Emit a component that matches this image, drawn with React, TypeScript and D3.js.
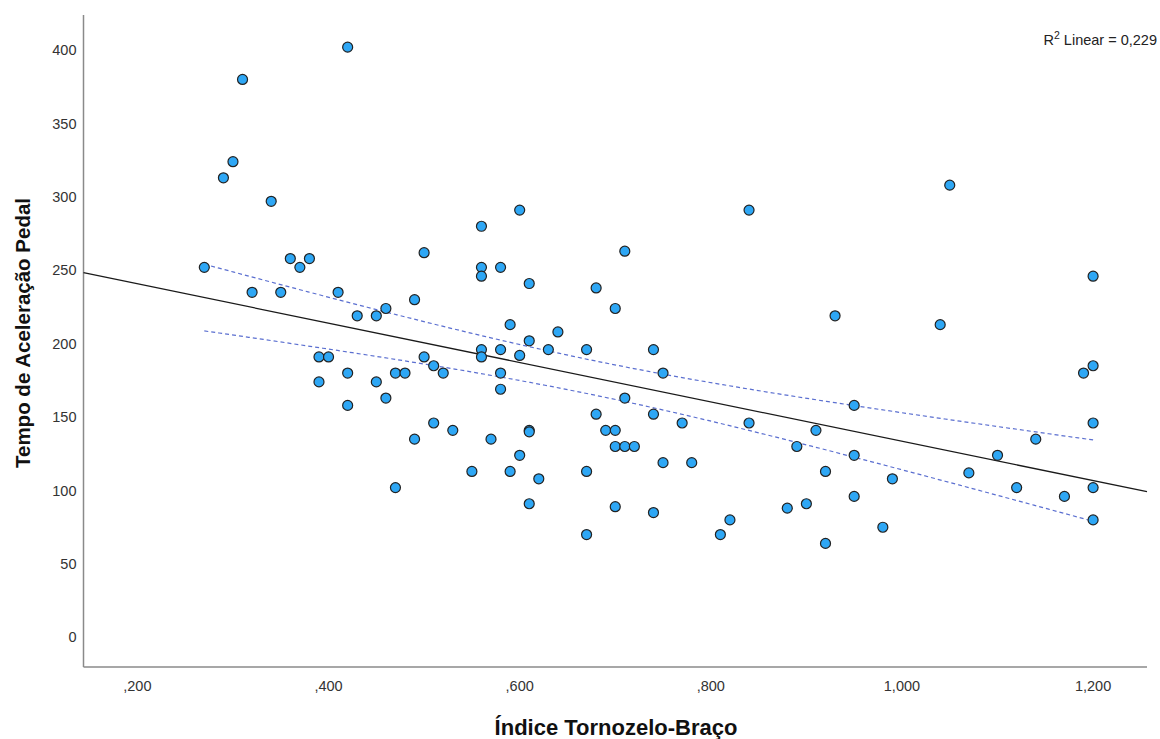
import React from "react";
import * as d3 from "d3";

const abi: number[] = [
  0.27, 0.29, 0.30, 0.31, 0.32, 0.34, 0.35, 0.36, 0.37, 0.38, 0.39, 0.39, 0.40, 0.41, 0.42, 0.42, 0.42, 0.43, 0.45, 0.45,
  0.46, 0.46, 0.47, 0.47, 0.48, 0.49, 0.49, 0.50, 0.50, 0.51, 0.51, 0.52, 0.53, 0.55, 0.56, 0.56, 0.56, 0.56, 0.56, 0.57,
  0.58, 0.58, 0.58, 0.58, 0.59, 0.59, 0.60, 0.60, 0.60, 0.61, 0.61, 0.61, 0.61, 0.61, 0.62, 0.63, 0.64, 0.67, 0.67, 0.67,
  0.68, 0.68, 0.69, 0.70, 0.70, 0.70, 0.70, 0.71, 0.71, 0.71, 0.72, 0.74, 0.74, 0.74, 0.75, 0.75, 0.77, 0.78, 0.81, 0.82,
  0.84, 0.84, 0.88, 0.89, 0.90, 0.91, 0.92, 0.92, 0.93, 0.95, 0.95, 0.95, 0.98, 0.99, 1.04, 1.05, 1.07, 1.10, 1.12, 1.14,
  1.17, 1.19, 1.20, 1.20, 1.20, 1.20, 1.20,
];
const tempo: number[] = [
  252, 313, 324, 380, 235, 297, 235, 258, 252, 258, 191, 174, 191, 235, 402, 180, 158, 219, 219, 174,
  224, 163, 180, 102, 180, 230, 135, 262, 191, 185, 146, 180, 141, 113, 280, 252, 246, 196, 191, 135,
  252, 196, 180, 169, 213, 113, 291, 192, 124, 241, 202, 141, 140, 91, 108, 196, 208, 196, 113, 70,
  238, 152, 141, 224, 141, 130, 89, 263, 163, 130, 130, 196, 152, 85, 180, 119, 146, 119, 70, 80,
  291, 146, 88, 130, 91, 141, 113, 64, 219, 158, 124, 96, 75, 108, 213, 308, 112, 124, 102, 135,
  96, 180, 246, 185, 146, 102, 80,
];

const xTicks: number[] = [0.2, 0.4, 0.6, 0.8, 1.0, 1.2];
const xTickLabels: string[] = [",200", ",400", ",600", ",800", "1,000", "1,200"];
const yTicks: number[] = [0, 50, 100, 150, 200, 250, 300, 350, 400];

const xTitle = "Índice Tornozelo-Braço";
const yTitle = "Tempo de Aceleração Pedal";
const r2Label = "0,229";
const tCrit = 1.983;

const W = 1160;
const H = 739;
const left = 83.5;
const right = 1147;
const top = 15;
const bottom = 667;

export default function App() {
  const x = d3.scaleLinear().domain([0.1436, 1.2564]).range([left, right]);
  const y = d3.scaleLinear().domain([-20.2, 423.9]).range([bottom, top]);

  const n = abi.length;
  const mx = d3.mean(abi) as number;
  const my = d3.mean(tempo) as number;
  let sxx = 0, sxy = 0;
  for (let i = 0; i < n; i++) {
    sxx += (abi[i] - mx) ** 2;
    sxy += (abi[i] - mx) * (tempo[i] - my);
  }
  const slope = sxy / sxx;
  const intercept = my - slope * mx;
  let sse = 0;
  for (let i = 0; i < n; i++) sse += (tempo[i] - (intercept + slope * abi[i])) ** 2;
  const s = Math.sqrt(sse / (n - 2));
  const fit = (v: number) => intercept + slope * v;
  const half = (v: number) => tCrit * s * Math.sqrt(1 / n + (v - mx) ** 2 / sxx);

  const [xmin, xmax] = d3.extent(abi) as [number, number];
  const xs = d3.range(0, 61).map((i) => xmin + ((xmax - xmin) * i) / 60);
  const line = d3
    .line<[number, number]>()
    .x((d) => x(d[0]))
    .y((d) => y(d[1]));
  const upper = line(xs.map((v) => [v, fit(v) + half(v)] as [number, number])) || "";
  const lower = line(xs.map((v) => [v, fit(v) - half(v)] as [number, number])) || "";
  const d0 = x.domain();
  const fitPath = line([
    [d0[0], fit(d0[0])],
    [d0[1], fit(d0[1])],
  ]) || "";

  const font = "'Liberation Sans', Arial, sans-serif";

  return (
    <svg width={W} height={H} style={{ position: "absolute", left: 0, top: 0, background: "#fff" }} fontFamily={font}>
      <rect x={0} y={0} width={W} height={H} fill="#fff" />
      {/* axes */}
      <line x1={left} x2={left} y1={top} y2={bottom} stroke="#8a8a8a" strokeWidth={1.5} />
      <line x1={left} x2={right} y1={bottom} y2={bottom} stroke="#8a8a8a" strokeWidth={1.5} />
      {yTicks.map((t) => (
        <text key={"y" + t} x={left - 7} y={y(t)} dy="0.35em" textAnchor="end" fontSize={14.5} fill="#333">
          {t}
        </text>
      ))}
      {xTicks.map((t, i) => (
        <text key={"x" + t} x={x(t)} y={bottom + 24} textAnchor="middle" fontSize={14.5} fill="#333">
          {xTickLabels[i]}
        </text>
      ))}
      <text
        transform={`translate(${30},${333}) rotate(-90)`}
        textAnchor="middle"
        fontSize={20.5}
        fontWeight="bold"
        fill="#111"
      >
        {yTitle}
      </text>
      <text x={616} y={735} textAnchor="middle" fontSize={22} fontWeight="bold" fill="#111">
        {xTitle}
      </text>
      {/* fit line and CI */}
      <path d={fitPath} stroke="#1a1a1a" strokeWidth={1.3} fill="none" />
      <path d={upper} stroke="#5b6fd0" strokeWidth={1.2} strokeDasharray="4,3" fill="none" />
      <path d={lower} stroke="#5b6fd0" strokeWidth={1.2} strokeDasharray="4,3" fill="none" />
      {/* points */}
      {abi.map((v, i) => (
        <circle key={i} cx={x(v)} cy={y(tempo[i])} r={5} fill="#2ea7f5" stroke="#222" strokeWidth={1.2} />
      ))}
      <text x={1157} y={45} textAnchor="end" fontSize={14.5} fill="#222">
        <tspan>R</tspan>
        <tspan dy={-6} fontSize={10.5}>2</tspan>
        <tspan dy={6}>{" Linear = " + r2Label}</tspan>
      </text>
    </svg>
  );
}
